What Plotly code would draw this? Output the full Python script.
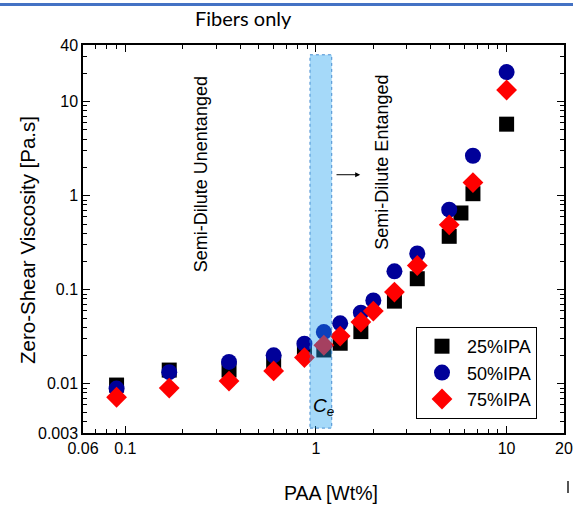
import math
import plotly.graph_objects as go

# ---- data ----
x25 = [0.09, 0.17, 0.35, 0.6, 0.87, 1.1, 1.34, 1.72, 2.58, 3.4, 5.0, 5.76, 6.66, 10]
y25 = [0.0097, 0.014, 0.014, 0.017, 0.0215, 0.0229, 0.027, 0.0359, 0.0757, 0.131, 0.37, 0.655, 1.05, 5.76]

x50 = [0.09, 0.17, 0.35, 0.6, 0.87, 1.1, 1.34, 1.72, 2.0, 2.58, 3.4, 5.0, 6.66, 10]
y50 = [0.0089, 0.0133, 0.0171, 0.0201, 0.0267, 0.0355, 0.044, 0.057, 0.077, 0.157, 0.243, 0.71, 2.66, 20.6]

x75 = [0.09, 0.17, 0.35, 0.6, 0.87, 1.1, 1.34, 1.72, 2.0, 2.58, 3.4, 5.0, 6.66, 10]
y75 = [0.0072, 0.0090, 0.0107, 0.0137, 0.019, 0.0257, 0.0322, 0.0453, 0.0593, 0.0944, 0.181, 0.49, 1.38, 13.3]

series_names = ["25%IPA", "50%IPA", "75%IPA"]

x_tickvals = [0.06, 0.1, 1, 10, 20]
x_ticktext = ["0.06", "0.1", "1", "10", "20"]
y_tickvals = [0.003, 0.01, 0.1, 1, 10, 40]
y_ticktext = ["0.003", "0.01", "0.1", "1", "10", "40"]

x_range = [0.06, 20]
y_range = [0.003, 40]

ce_band = [0.93, 1.21]
ce_band_y = [0.00338, 31.5]

x_minor = [0.07, 0.08, 0.09] + [k / 10 for k in range(2, 10)] + list(range(2, 10))
y_minor = [k / 1000 for k in range(4, 10)] + [k / 100 for k in range(2, 10)] + \
          [k / 10 for k in range(2, 10)] + list(range(2, 10)) + [20, 30]

FONT = "Liberation Sans, Arial, sans-serif"

# plot-area geometry in pixels (for paper-coordinate placement of outside texts)
L, R, T, B = 83, 564, 45, 433
PW, PH = R - L, B - T


def px(xp):
    return (xp - L) / PW


def py(yp):
    return (B - yp) / PH


fig = go.Figure()
fig.add_trace(go.Scatter(x=x25, y=y25, mode="markers", name=series_names[0],
                         marker=dict(symbol="square", size=15, color="#000000")))
fig.add_trace(go.Scatter(x=x50, y=y50, mode="markers", name=series_names[1],
                         marker=dict(symbol="circle", size=16, color="#000099")))
fig.add_trace(go.Scatter(x=x75, y=y75, mode="markers", name=series_names[2],
                         marker=dict(symbol="diamond", size=16, color="#ff0000")))

axis_common = dict(
    type="log", showgrid=False, zeroline=False, automargin=False,
    showline=True, linecolor="black", linewidth=1.5, mirror="allticks",
    ticks="inside", ticklen=7, tickwidth=1, tickcolor="black",
    tickfont=dict(family=FONT, size=16, color="black"),
)

fig.update_xaxes(
    **axis_common,
    range=[math.log10(x_range[0]), math.log10(x_range[1])],
    tickvals=x_tickvals, ticktext=x_ticktext,
    minor=dict(tickvals=x_minor, ticks="inside", ticklen=4, tickcolor="black"),
)
fig.update_yaxes(
    **axis_common,
    range=[math.log10(y_range[0]), math.log10(y_range[1])],
    tickvals=y_tickvals, ticktext=y_ticktext,
    minor=dict(tickvals=y_minor, ticks="inside", ticklen=4, tickcolor="black"),
)

# Ce band (drawn above markers, semi-transparent)
fig.add_shape(type="rect", xref="x", yref="y",
              x0=ce_band[0], x1=ce_band[1], y0=ce_band_y[0], y1=ce_band_y[1],
              fillcolor="rgba(30,160,240,0.4)",
              line=dict(color="rgba(40,120,200,0.8)", width=1, dash="dot"),
              layer="above")

# top decorative line (thin filled rect across the page)
fig.add_shape(type="rect", xref="paper", yref="paper",
              x0=px(0), x1=px(573), y0=py(3), y1=py(6),
              fillcolor="#4472C4", line=dict(width=0), layer="below")
# small gray mark at lower right
fig.add_shape(type="line", xref="paper", yref="paper",
              x0=px(568), x1=px(568), y0=py(481), y1=py(493),
              line=dict(color="#555555", width=2))

fig.add_annotation(text="Fibers only", xref="paper", yref="paper",
                   x=px(243), y=py(18), showarrow=False,
                   xanchor="center", yanchor="middle",
                   font=dict(family="Lato, Open Sans, sans-serif", size=20, color="black"))

# axis titles
fig.add_annotation(text="PAA [Wt%]", xref="paper", yref="paper",
                   x=px(331), y=py(493), showarrow=False,
                   xanchor="center", yanchor="middle",
                   font=dict(family=FONT, size=19.5, color="black"))
fig.add_annotation(text="Zero-Shear Viscosity [Pa.s]", xref="paper", yref="paper",
                   x=px(27), y=py(240), showarrow=False, textangle=-90,
                   xanchor="center", yanchor="middle",
                   font=dict(family=FONT, size=20.5, color="black"))

fig.add_annotation(text="Semi-Dilute Unentanged", xref="x", yref="y",
                   x=-0.606, y=0.233, textangle=-90, showarrow=False,
                   font=dict(family=FONT, size=18, color="black"))
fig.add_annotation(text="Semi-Dilute Entanged", xref="x", yref="y",
                   x=0.3455, y=0.36, textangle=-90, showarrow=False,
                   font=dict(family=FONT, size=18, color="black"))
fig.add_annotation(text="", xref="x", yref="y", axref="x", ayref="y",
                   x=0.232, y=0.223, ax=0.1, ay=0.223,
                   showarrow=True, arrowhead=2, arrowsize=1, arrowwidth=1, arrowcolor="black")
fig.add_annotation(text="<i>C</i><sub><i>e</i></sub>", xref="x", yref="y",
                   x=0.038, y=-2.248, showarrow=False,
                   font=dict(family=FONT, size=19, color="black"))

fig.update_layout(
    width=573, height=505,
    margin=dict(l=L, r=573 - R, t=T, b=505 - B),
    plot_bgcolor="white", paper_bgcolor="white",
    showlegend=True,
    legend=dict(x=px(416), y=py(327), xanchor="left", yanchor="top",
                bordercolor="black", borderwidth=1, bgcolor="white",
                font=dict(family=FONT, size=18, color="black"),
                itemwidth=40, tracegroupgap=0),
)

fig.write_html("out.html", config={"displayModeBar": False},
               post_script="document.body.style.margin='0';document.body.style.overflow='hidden';")
